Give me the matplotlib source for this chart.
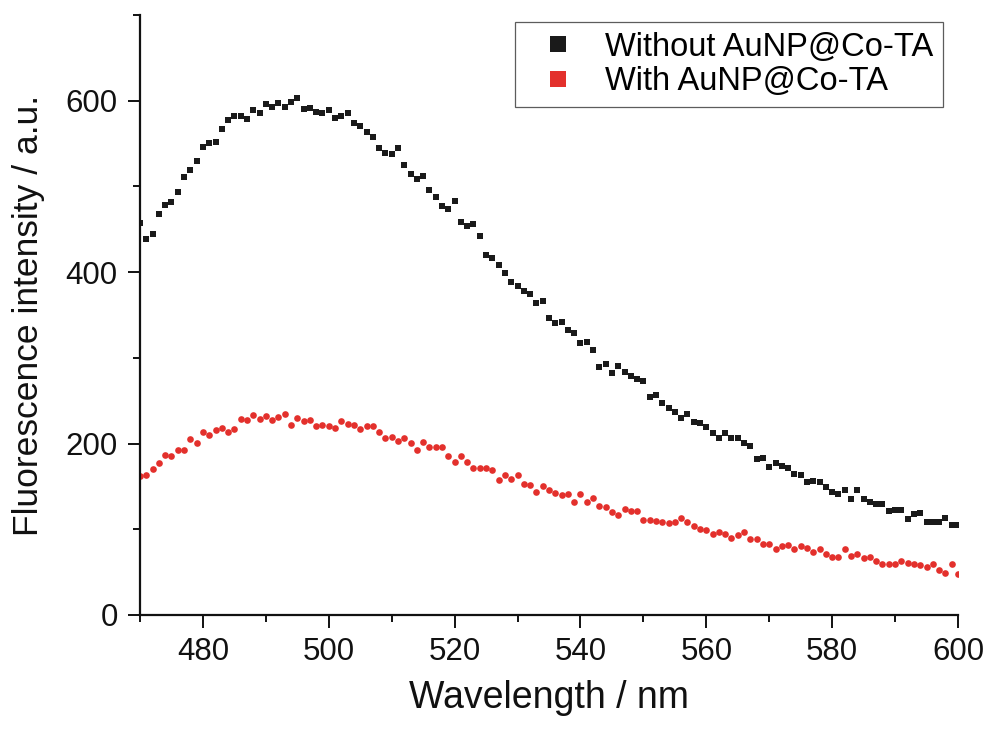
import numpy as np
import matplotlib
matplotlib.use("Agg")
import matplotlib.pyplot as plt
from matplotlib.ticker import MultipleLocator

plt.rcParams['font.family'] = ['Liberation Sans', 'DejaVu Sans']

wavelength = np.arange(470, 601)

without_np = [
    457, 439, 444, 468, 478, 482, 494, 511, 519, 530,   # 470-479
    546, 551, 552, 567, 578, 582, 582, 579, 589, 586,   # 480-489
    596, 593, 597, 593, 598, 603, 590, 591, 587, 586,   # 490-499
    589, 580, 582, 586, 574, 570, 564, 558, 545, 539,   # 500-509
    538, 545, 525, 514, 509, 512, 496, 488, 477, 474,   # 510-519
    483, 458, 454, 456, 442, 420, 417, 408, 399, 388,   # 520-529
    384, 378, 374, 364, 366, 347, 341, 342, 333, 329,   # 530-539
    317, 318, 309, 289, 293, 282, 291, 284, 279, 275,   # 540-549
    273, 254, 257, 247, 242, 237, 230, 234, 225, 224,   # 550-559
    219, 212, 207, 212, 207, 207, 201, 197, 182, 183,   # 560-569
    173, 177, 174, 171, 165, 163, 155, 156, 155, 149,   # 570-579
    144, 141, 146, 135, 146, 135, 132, 129, 129, 121,   # 580-589
    122, 123, 112, 118, 119, 109, 108, 109, 113, 105,   # 590-599
    105,                                                # 600
]

with_np = [
    162, 163, 170, 177, 187, 186, 192, 192, 205, 201,   # 470-479
    213, 210, 216, 218, 213, 217, 229, 228, 233, 229,   # 480-489
    232, 228, 231, 235, 222, 230, 226, 227, 221, 222,   # 490-499
    220, 218, 226, 223, 222, 217, 220, 220, 213, 207,   # 500-509
    208, 203, 207, 201, 193, 202, 196, 196, 196, 185,   # 510-519
    178, 186, 179, 171, 171, 172, 169, 158, 163, 159,   # 520-529
    163, 153, 152, 143, 150, 146, 142, 140, 141, 132,   # 530-539
    141, 132, 137, 127, 126, 120, 117, 124, 121, 121,   # 540-549
    111, 111, 110, 109, 107, 109, 113, 108, 104, 100,   # 550-559
    99, 94, 97, 94, 90, 93, 97, 89, 89, 83,             # 560-569
    83, 77, 80, 82, 77, 80, 78, 74, 77, 71,             # 570-579
    68, 68, 77, 69, 71, 66, 68, 63, 59, 59,             # 580-589
    59, 63, 61, 59, 58, 56, 59, 53, 49, 59,             # 590-599
    48,                                                 # 600
]

x_ticks = [480, 500, 520, 540, 560, 580, 600]
y_ticks = [0, 200, 400, 600]

W, H = 989, 729
fig = plt.figure(figsize=(W / 100, H / 100), dpi=100)
ax = fig.add_axes([140 / W, 1 - 615 / H, (958 - 140) / W, (615 - 15) / H])

black = '#1a1a1a'
red = '#e3302c'

ax.plot(wavelength, without_np, linestyle='none', marker='s', markersize=4.2,
        color=black, markeredgewidth=0, label='Without AuNP@Co-TA', zorder=2)
ax.plot(wavelength, with_np, linestyle='none', marker='o', markersize=4.8,
        color=red, markeredgewidth=0, label='With AuNP@Co-TA', zorder=2)

ax.set_xlim(470, 600)
ax.set_ylim(0, 700)
ax.set_xticks(x_ticks)
ax.set_yticks(y_ticks)
ax.xaxis.set_minor_locator(MultipleLocator(10))
ax.yaxis.set_minor_locator(MultipleLocator(100))

for side in ['top', 'right']:
    ax.spines[side].set_visible(False)
for side in ['left', 'bottom']:
    ax.spines[side].set_linewidth(1.6)
    ax.spines[side].set_color('#111111')
    ax.spines[side].set_zorder(3)

ax.tick_params(which='major', direction='out', length=9, width=1.4,
               labelsize=22.5, pad=7, colors='#111111')
ax.tick_params(which='minor', direction='out', length=5, width=1.4,
               colors='#111111')

ax.set_xlabel('Wavelength / nm', fontsize=27, labelpad=9, color='#111111')
ax.set_ylabel('Fluorescence intensity / a.u.', fontsize=25.5, labelpad=15,
              color='#111111')

leg = ax.legend(loc='upper right', bbox_to_anchor=(943 / W, 1 - 22 / H),
                bbox_transform=fig.transFigure, borderaxespad=0,
                fontsize=23.5, frameon=True, fancybox=False, shadow=False,
                borderpad=0.3, handlelength=2.05, handletextpad=0.4,
                labelspacing=0.1, markerscale=3.0)
leg.get_frame().set_edgecolor('#333333')
leg.get_frame().set_linewidth(0.9)
for h in leg.legend_handles:
    h.set_marker('s')
    h.set_markersize(12)

fig.savefig('out.png', dpi=100)
